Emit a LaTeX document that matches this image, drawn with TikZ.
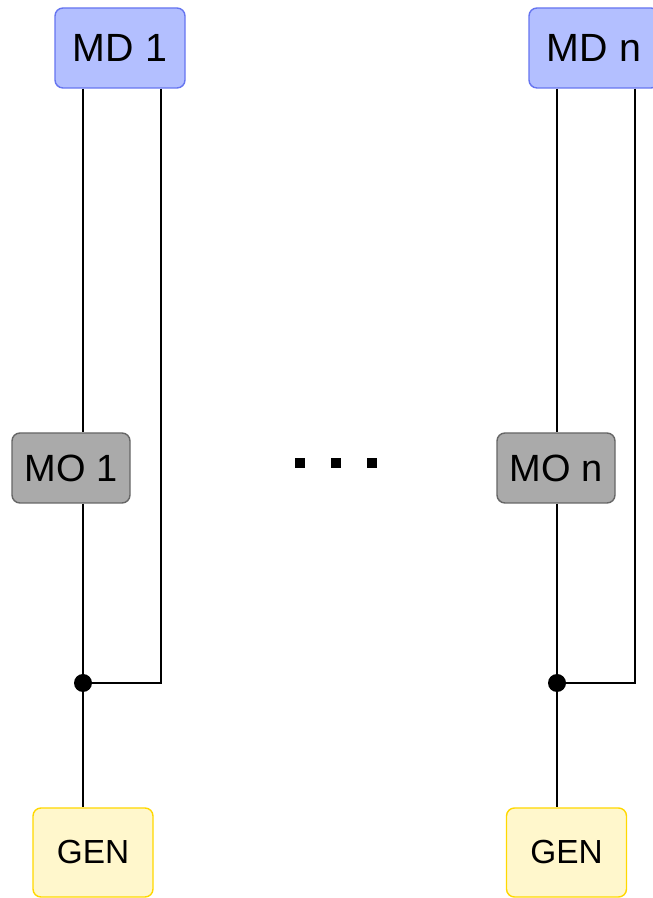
\documentclass[tikz,border=0pt]{standalone}
\usepackage{fontspec}
\setmainfont{Liberation Sans}
\definecolor{mdfill}{HTML}{B3BFFF}
\definecolor{mdline}{HTML}{6675F0}
\definecolor{mofill}{HTML}{AAAAAA}
\definecolor{moline}{HTML}{666666}
\definecolor{genfill}{HTML}{FFF7CC}
\definecolor{genline}{HTML}{FFD800}
\tikzset{
  box/.style={draw, rounded corners=0.16cm, line width=0.8pt, inner sep=0pt},
  mdbox/.style={box, fill=mdfill, draw=mdline, minimum width=2.6cm, minimum height=1.6cm,
    font=\fontsize{22.4}{26}\selectfont},
  mobox/.style={box, fill=mofill, draw=moline, minimum width=2.36cm, minimum height=1.4cm,
    font=\fontsize{21.6}{25}\selectfont},
  genbox/.style={box, fill=genfill, draw=genline, minimum width=2.4cm, minimum height=1.78cm,
    font=\fontsize{19}{22}\selectfont},
  wire/.style={line width=1.1pt},
  dot/.style={circle, fill=black, inner sep=0pt, minimum size=0.36cm}
}
\begin{document}
\begin{tikzpicture}
  \useasboundingbox (0,0) rectangle (13.06,17.96);
  \clip (0,0) rectangle (13.06,17.96);

  % first branch
  \node[mdbox] (md1) at (2.40,17.00) {MD 1};
  \node[mobox] (mo1) at (1.42,8.60) {MO 1};
  \node[genbox] (gen1) at (1.86,0.91) {GEN};
  \node[dot] (j1) at (1.66,4.30) {};
  \coordinate (c1) at (3.22,4.30);

  % last branch
  \node[mdbox] (mdn) at (11.88,17.00) {MD n};
  \node[mobox] (mon) at (11.12,8.60) {MO n};
  \node[genbox] (genn) at (11.33,0.91) {GEN};
  \node[dot] (jn) at (11.14,4.30) {};
  \coordinate (cn) at (12.70,4.30);

  \draw[wire] (md1.south -| j1) -- (mo1.north -| j1);
  \draw[wire] (mo1.south -| j1) -- (j1.center) -- (gen1.north -| j1);
  \draw[wire] (md1.south -| c1) -- (c1) -- (j1.center);

  \draw[wire] (mdn.south -| jn) -- (mon.north -| jn);
  \draw[wire] (mon.south -| jn) -- (jn.center) -- (genn.north -| jn);
  \draw[wire] (mdn.south -| cn) -- (cn) -- (jn.center);

  % the branches in between
  \foreach \x in {6.00,6.72,7.44}
    \fill (\x-0.1,8.60) rectangle (\x+0.1,8.80);
\end{tikzpicture}
\end{document}
